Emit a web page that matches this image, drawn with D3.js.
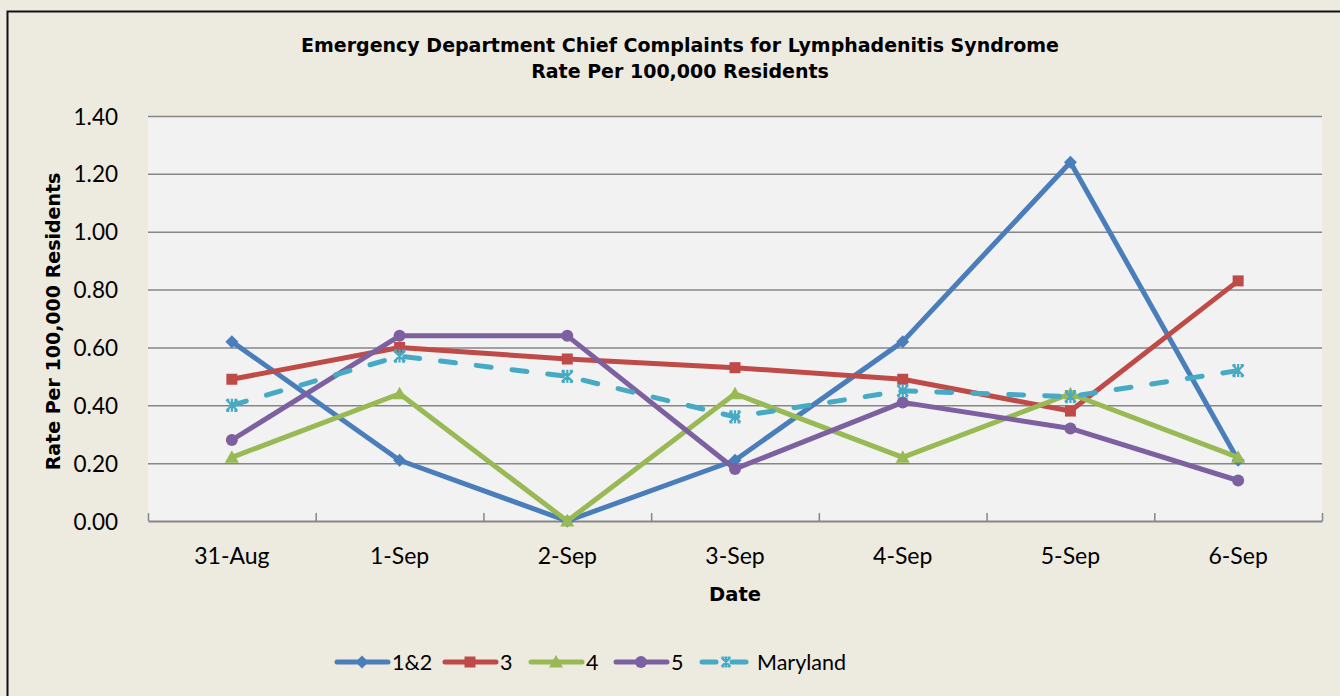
<!DOCTYPE html>
<html>
<head>
<meta charset="utf-8">
<script src="https://cdn.jsdelivr.net/npm/d3@7"></script>
<style>
  body { margin: 0; background: #EDEAE0; }
  svg { display: block; }
  .tick text { font-family: Lato, "Open Sans", sans-serif; fill: #000; }
</style>
</head>
<body>
<div id="chart"></div>
<script>
var dates = ["31-Aug", "1-Sep", "2-Sep", "3-Sep", "4-Sep", "5-Sep", "6-Sep"];
var yTicks = [0, 0.2, 0.4, 0.6, 0.8, 1.0, 1.2, 1.4];

var seriesNames = ["1&2", "3", "4", "5", "Maryland"];
var region12 = [0.62, 0.21, 0.00, 0.21, 0.62, 1.24, 0.21];
var region3 = [0.49, 0.60, 0.56, 0.53, 0.49, 0.38, 0.83];
var region4 = [0.22, 0.44, 0.00, 0.44, 0.22, 0.44, 0.22];
var region5 = [0.28, 0.64, 0.64, 0.18, 0.41, 0.32, 0.14];
var maryland = [0.40, 0.57, 0.50, 0.36, 0.45, 0.43, 0.52];

var svgWidth = 1340;
var svgHeight = 696;

var chartMargin = { top: 116, right: 18, bottom: 175, left: 148 };
var chartWidth = svgWidth - chartMargin.left - chartMargin.right;
var chartHeight = svgHeight - chartMargin.top - chartMargin.bottom;

var colors = ["#4A7EBB", "#BE4B48", "#98B954", "#7D60A0", "#46AAC5"];
var markers = ["diamond", "square", "triangle", "circle", "star"];

var series = seriesNames.map(function(name, i) {
  return {
    name: name,
    values: [region12, region3, region4, region5, maryland][i],
    color: colors[i],
    marker: markers[i],
    dashed: name === "Maryland"
  };
});

var svg = d3.select("#chart")
  .append("svg")
  .attr("width", svgWidth)
  .attr("height", svgHeight);

// outer frame (only top and left edges visible)
svg.append("rect")
  .attr("x", 0).attr("y", 0)
  .attr("width", svgWidth).attr("height", svgHeight)
  .attr("fill", "#EDEAE0");
svg.append("path")
  .attr("d", "M7.5,700 V11.5 H1345")
  .attr("fill", "none")
  .attr("stroke", "#111")
  .attr("stroke-width", 2);

// title
var title = svg.append("text")
  .attr("x", 680)
  .attr("text-anchor", "middle")
  .style("font-family", "'DejaVu Sans', sans-serif")
  .style("font-weight", "bold")
  .style("font-size", "19px");
title.append("tspan").attr("x", 680).attr("y", 52).text("Emergency Department Chief Complaints for Lymphadenitis Syndrome");
title.append("tspan").attr("x", 680).attr("y", 78).text("Rate Per 100,000 Residents");

var chartGroup = svg.append("g")
  .attr("transform", `translate(${chartMargin.left}, ${chartMargin.top})`);

var xBand = d3.scaleBand()
  .domain(dates)
  .range([0, chartWidth])
  .padding(0);

var xIndex = d3.scaleLinear()
  .domain([0, dates.length])
  .range([0, chartWidth]);

var yLinearScale = d3.scaleLinear()
  .domain([0, 1.4])
  .range([chartHeight, 0]);

chartGroup.append("rect")
  .attr("width", chartWidth)
  .attr("height", chartHeight)
  .attr("fill", "#F2F2F2");

// gridlines
var grid = chartGroup.append("g")
  .call(d3.axisLeft(yLinearScale).tickValues(yTicks.slice(1)).tickSize(-chartWidth).tickFormat(""));
grid.select(".domain").remove();
grid.selectAll("line").attr("stroke", "#868686").attr("stroke-width", 1.5);

// y tick labels
var yAxis = chartGroup.append("g")
  .attr("transform", "translate(-27,0)")
  .call(d3.axisLeft(yLinearScale).tickValues(yTicks).tickSize(0).tickFormat(d3.format(".2f")));
yAxis.select(".domain").remove();
yAxis.selectAll("text").style("font-size", "22.5px").attr("dy", "0.36em");

// x axis line and ticks
var xTicks = chartGroup.append("g")
  .attr("transform", `translate(0, ${chartHeight})`)
  .call(d3.axisBottom(xIndex).tickValues(d3.range(dates.length + 1)).tickSize(-8).tickFormat("").tickSizeOuter(0));
xTicks.select(".domain").attr("stroke", "#868686").attr("stroke-width", 2);
xTicks.selectAll("line").attr("stroke", "#868686").attr("stroke-width", 1.5);

var xAxis = chartGroup.append("g")
  .attr("transform", `translate(0, ${chartHeight + 24})`)
  .call(d3.axisBottom(xBand).tickSize(0));
xAxis.select(".domain").remove();
xAxis.selectAll("text").style("font-size", "23px");

// axis titles
chartGroup.append("text")
  .attr("transform", "rotate(-90)")
  .attr("x", 0 - (yLinearScale(0.7) + 3))
  .attr("y", 53 - chartMargin.left)
  .attr("dy", "0.35em")
  .attr("text-anchor", "middle")
  .style("font-family", "'DejaVu Sans', sans-serif")
  .style("font-weight", "bold")
  .style("font-size", "19px")
  .text("Rate Per 100,000 Residents");

chartGroup.append("text")
  .attr("x", 735 - chartMargin.left)
  .attr("y", chartHeight + 80)
  .attr("text-anchor", "middle")
  .style("font-family", "'DejaVu Sans', sans-serif")
  .style("font-weight", "bold")
  .style("font-size", "19.5px")
  .text("Date");

function drawMarker(g, type, color, size) {
  var s = size;
  if (type === "diamond") {
    g.append("path").attr("d", `M0,${-s / 2 - 1}L${s / 2 + 1},0L0,${s / 2 + 1}L${-s / 2 - 1},0Z`).attr("fill", color);
  } else if (type === "square") {
    g.append("rect").attr("x", -s / 2).attr("y", -s / 2).attr("width", s).attr("height", s).attr("fill", color);
  } else if (type === "triangle") {
    g.append("path").attr("d", `M0,${-s / 2 - 1.5}L${s / 2 + 1.5},${s / 2}L${-s / 2 - 1.5},${s / 2}Z`).attr("fill", color);
  } else if (type === "circle") {
    g.append("circle").attr("r", s / 2 + 0.5).attr("fill", color);
  } else if (type === "star") {
    var h = s / 2;
    g.append("path")
      .attr("d", `M${-h},${-h}L${h},${h}M${h},${-h}L${-h},${h}M0,${-h - 1}L0,${h + 1}M${-h},${-h}H${-h + 3}M${h},${-h}H${h - 3}M${-h},${h}H${-h + 3}M${h},${h}H${h - 3}`)
      .attr("stroke", color)
      .attr("stroke-width", 2.2)
      .attr("fill", "none");
  }
}

var line = d3.line()
  .x(function(d, i) { return xBand(dates[i]) + xBand.bandwidth() / 2; })
  .y(function(d) { return yLinearScale(d); });

series.forEach(function(s) {
  var g = chartGroup.append("g");
  g.append("path")
    .datum(s.values)
    .attr("d", line)
    .attr("fill", "none")
    .attr("stroke", s.color)
    .attr("stroke-width", 5)
    .attr("stroke-linejoin", "round")
    .attr("stroke-linecap", "round")
    .attr("stroke-dasharray", s.dashed ? "15,21" : null);
  s.values.forEach(function(v, i) {
    var mg = g.append("g")
      .attr("transform", `translate(${xBand(dates[i]) + xBand.bandwidth() / 2}, ${yLinearScale(v)})`);
    drawMarker(mg, s.marker, s.color, 11);
  });
});

// legend
var legendX = [337, 445, 531, 616, 702];
var legend = svg.append("g").attr("transform", "translate(0, 662)");
series.forEach(function(s, i) {
  var lg = legend.append("g").attr("transform", `translate(${legendX[i]}, 0)`);
  if (s.dashed) {
    lg.append("line").attr("x1", 0).attr("x2", 14).attr("stroke", s.color).attr("stroke-width", 5).attr("stroke-linecap", "round");
    lg.append("line").attr("x1", 30).attr("x2", 44).attr("stroke", s.color).attr("stroke-width", 5).attr("stroke-linecap", "round");
    drawMarker(lg.append("g").attr("transform", "translate(24,0)"), s.marker, s.color, 9);
  } else {
    lg.append("line").attr("x1", 0).attr("x2", 51).attr("stroke", s.color).attr("stroke-width", 5).attr("stroke-linecap", "round");
    drawMarker(lg.append("g").attr("transform", "translate(25,0)"), s.marker, s.color, 11);
  }
  lg.append("text")
    .attr("x", 55)
    .attr("dy", "0.36em")
    .style("font-family", "Lato, 'Open Sans', sans-serif")
    .style("font-size", "21.5px")
    .text(s.name);
});
</script>
</body>
</html>
